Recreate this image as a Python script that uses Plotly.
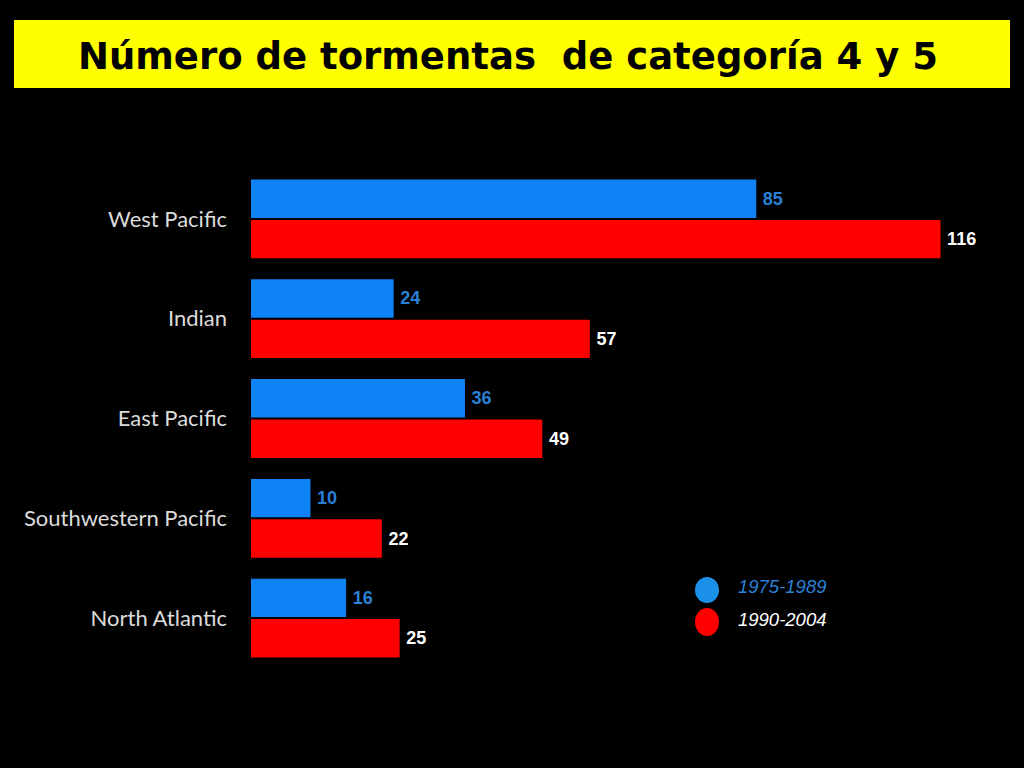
import plotly.graph_objects as go

# Data
regions = ["West Pacific", "Indian", "East Pacific", "Southwestern Pacific", "North Atlantic"]
storms_1975_1989 = [85, 24, 36, 10, 16]
storms_1990_2004 = [116, 57, 49, 22, 25]
period_labels = ["1975-1989", "1990-2004"]

BLUE = "#0f82f5"
RED = "#ff0000"
BLUE_TXT = "#2a80d4"

# plot area in pixels
L, R, T, B = 251, 30, 169, 100
W = 1024 - L - R
H = 768 - T - B


def px(x):
    return (x - L) / W


def py(y):
    return (768 - B - y) / H


fig = go.Figure()

fig.add_trace(go.Bar(
    y=regions, x=storms_1975_1989, orientation="h",
    marker=dict(color=BLUE, line=dict(width=0)),
    texttemplate="\u2009<b>%{x}</b>", textposition="outside",
    textfont=dict(family="Arial", size=18, color=BLUE_TXT),
    name=period_labels[0], showlegend=False,
))
fig.add_trace(go.Bar(
    y=regions, x=storms_1990_2004, orientation="h",
    marker=dict(color=RED, line=dict(width=0)),
    texttemplate="\u2009<b>%{x}</b>", textposition="outside",
    textfont=dict(family="Arial", size=18, color="white"),
    name=period_labels[1], showlegend=False,
))

# title box
shapes = [
    dict(type="rect", xref="paper", yref="paper",
         x0=px(14), x1=px(1010), y0=py(88), y1=py(20),
         fillcolor="#ffff00", line=dict(width=0), layer="below"),
    # legend dots
    dict(type="circle", xref="paper", yref="paper",
         x0=px(695), x1=px(719), y0=py(603), y1=py(577),
         fillcolor="#1a90e8", line=dict(width=0)),
    dict(type="circle", xref="paper", yref="paper",
         x0=px(695), x1=px(719), y0=py(636), y1=py(608),
         fillcolor=RED, line=dict(width=0)),
]

annotations = [
    dict(text="<b>Número de tormentas\u00a0 de categoría 4 y 5</b>",
         xref="paper", yref="paper", x=px(508), y=py(56),
         xanchor="center", yanchor="middle", showarrow=False,
         font=dict(family="DejaVu Sans", size=37, color="black")),
    dict(text="<i>" + period_labels[0] + "</i>",
         xref="paper", yref="paper", x=px(736), y=py(586),
         xanchor="left", yanchor="middle", showarrow=False,
         font=dict(family="Arial", size=18.5, color=BLUE_TXT)),
    dict(text="<i>" + period_labels[1] + "</i>",
         xref="paper", yref="paper", x=px(736), y=py(619),
         xanchor="left", yanchor="middle", showarrow=False,
         font=dict(family="Arial", size=18.5, color="white")),
]

fig.update_layout(
    width=1024, height=768,
    paper_bgcolor="black", plot_bgcolor="black",
    margin=dict(l=L, r=R, t=T, b=B),
    barmode="group", bargap=0.19, bargroupgap=0.05,
    shapes=shapes, annotations=annotations,
    showlegend=False,
)
fig.update_xaxes(range=[0, 125], visible=False)
fig.update_yaxes(range=[4.5, -0.5], showgrid=False, zeroline=False,
                 showline=False, ticks="", ticklabelstandoff=23,
                 tickfont=dict(family="Lato", size=22, color="#dcdcdc"))
fig.update_traces(cliponaxis=False)

fig.write_html("out.html", config={"displayModeBar": False},
               post_script="document.body.style.margin='0';document.body.style.background='black';")
